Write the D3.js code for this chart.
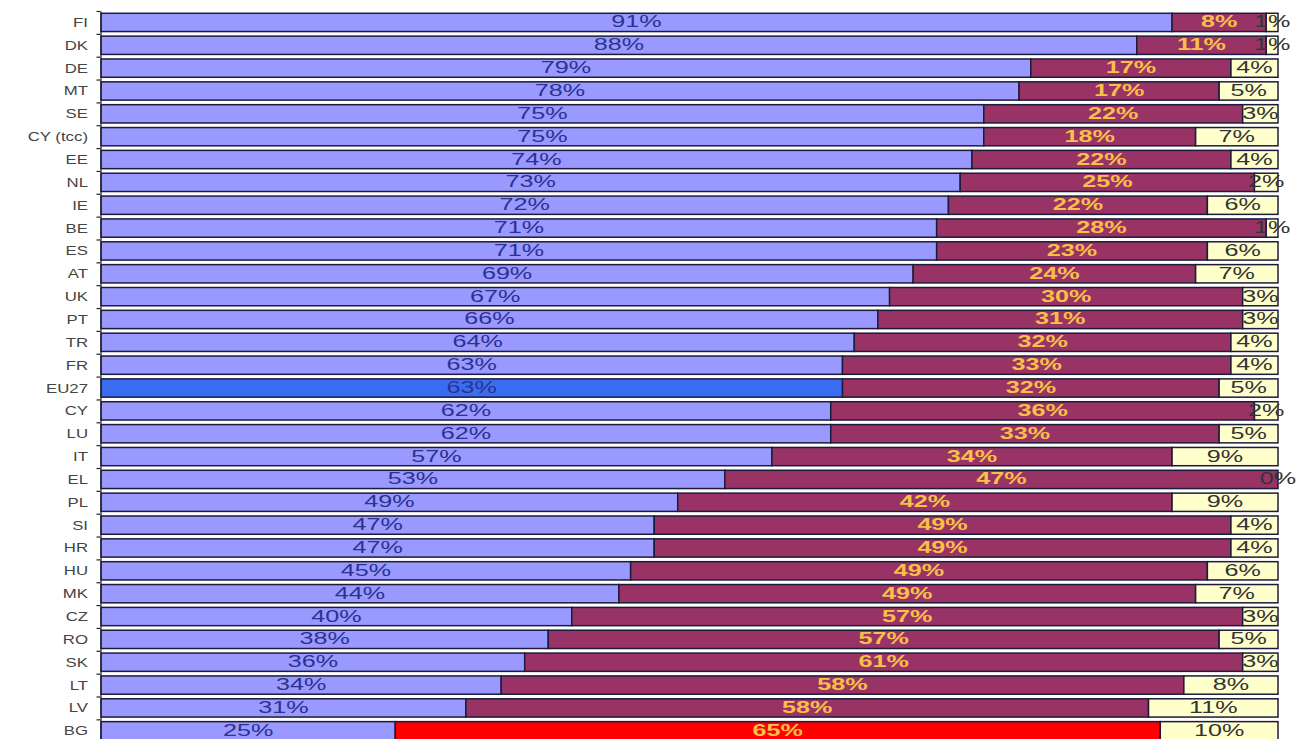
<!DOCTYPE html>
<html>
<head>
<meta charset="utf-8">
<script src="https://cdn.jsdelivr.net/npm/d3@7"></script>
<style>
  body { margin: 0; background: #fff; }
  svg { display: block; }
  .axis path, .axis line { stroke: #222; stroke-width: 1.2px; }
</style>
</head>
<body>
<div id="chart"></div>
<script>
// DATA
const countries = ['FI', 'DK', 'DE', 'MT', 'SE', 'CY (tcc)', 'EE', 'NL', 'IE', 'BE', 'ES', 'AT', 'UK', 'PT', 'TR', 'FR',
  'EU27', 'CY', 'LU', 'IT', 'EL', 'PL', 'SI', 'HR', 'HU', 'MK', 'CZ', 'RO', 'SK', 'LT', 'LV', 'BG']
const yesValues = [91, 88, 79, 78, 75, 75, 74, 73, 72, 71, 71, 69, 67, 66, 64, 63, 63, 62, 62, 57, 53, 49, 47, 47, 45, 44, 40, 38, 36, 34, 31, 25]
const noValues = [8, 11, 17, 17, 22, 18, 22, 25, 22, 28, 23, 24, 30, 31, 32, 33, 32, 36, 33, 34, 47, 42, 49, 49, 49, 49, 57, 57, 61, 58, 58, 65]
const dkValues = [1, 1, 4, 5, 3, 7, 4, 2, 6, 1, 6, 7, 3, 3, 4, 4, 5, 2, 5, 9, 0, 9, 4, 4, 6, 7, 3, 5, 3, 8, 11, 10]

const width = 1300
const height = 739
const margin = { top: 11, left: 101, right: 22 }
const n = countries.length
const step = 22.85

const rows = countries.map(function (c, i) {
  return { country: c, parts: [yesValues[i], noValues[i], dkValues[i]] }
})

const svg = d3.select('#chart').append('svg')
  .attr('width', width)
  .attr('height', height)

const xScale = d3.scaleLinear().domain([0, 100]).range([margin.left, width - margin.right])
const yScale = d3.scaleBand()
  .domain(countries)
  .range([margin.top, margin.top + n * step])
  .paddingInner(0.2)
  .paddingOuter(0.1)
const yIdx = d3.scaleLinear().domain([0, n]).range([margin.top, margin.top + n * step])

function segColor (k, c) {
  if (k === 0) return c === 'EU27' ? '#3a6cf0' : '#9999ff'
  if (k === 1) return c === 'BG' ? '#ff0000' : '#993366'
  return '#ffffcc'
}
const labelColors = ['#2b3290', '#f8c048', '#333333']
const sx = 1.48

// BARS
const rowG = svg.selectAll('.row').data(rows).enter().append('g')
  .attr('class', 'row')
  .attr('transform', function (d) { return 'translate(0,' + yScale(d.country) + ')' })

rowG.each(function (d) {
  const g = d3.select(this)
  let acc = 0
  const segs = d.parts.map(function (v, k) {
    const s = { k: k, v: v, x0: acc, x1: acc + v }
    acc += v
    return s
  })
  g.selectAll('rect').data(segs).enter().append('rect')
    .attr('x', function (s) { return xScale(s.x0) })
    .attr('y', 0)
    .attr('width', function (s) { return xScale(s.x1) - xScale(s.x0) })
    .attr('height', yScale.bandwidth())
    .attr('fill', function (s) { return segColor(s.k, d.country) })
    .attr('stroke', '#1c1c3a')
    .attr('stroke-width', 1.5)
  g.selectAll('text').data(segs).enter().append('text')
    .attr('transform', function (s) {
      return 'translate(' + xScale((s.x0 + s.x1) / 2) + ',' + (yScale.bandwidth() / 2 + 5) + ') scale(' + sx + ',1)'
    })
    .attr('text-anchor', 'middle')
    .attr('font-family', 'Liberation Sans, Arial, sans-serif')
    .attr('font-size', 17)
    .attr('font-weight', function (s) { return s.k === 1 ? 'bold' : 'normal' })
    .attr('fill', function (s) { return labelColors[s.k] })
    .text(function (s) { return s.v + '%' })
})

// AXIS
svg.append('g')
  .attr('class', 'axis')
  .attr('transform', 'translate(' + (margin.left - 0.5) + ',0)')
  .call(d3.axisLeft(yIdx).tickValues(d3.range(n + 1)).tickSize(4).tickSizeOuter(0).tickFormat(''))

svg.append('g').selectAll('text').data(countries).enter().append('text')
  .attr('transform', function (c) {
    return 'translate(88,' + (yScale(c) + yScale.bandwidth() / 2 + 4.5) + ') scale(1.4,1)'
  })
  .attr('text-anchor', 'end')
  .attr('font-family', 'Liberation Sans, Arial, sans-serif')
  .attr('font-size', 12)
  .attr('fill', '#444')
  .text(function (c) { return c })
</script>
</body>
</html>
